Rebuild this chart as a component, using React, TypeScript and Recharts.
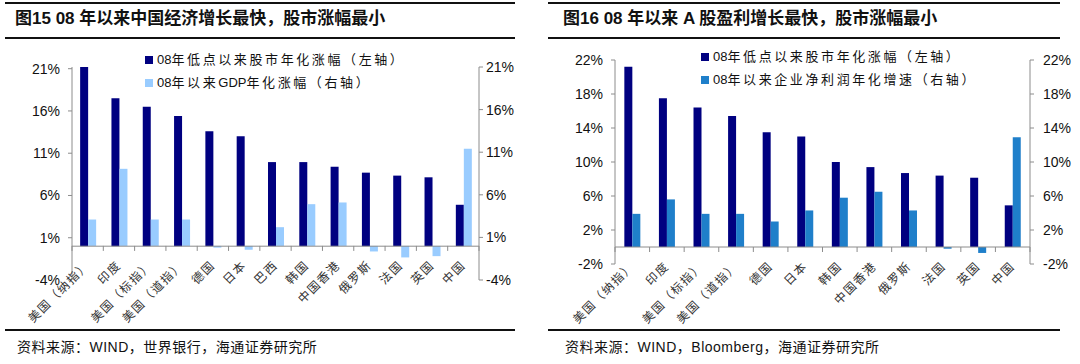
import React from "react";
import { Bar, BarChart, ReferenceLine, XAxis, YAxis } from "recharts";

const leftCategories = [
  "美国（纳指）", "印度", "美国（标指）", "美国（道指）", "德国", "日本", "巴西",
  "韩国", "中国香港", "俄罗斯", "法国", "英国", "中国",
];
const leftStock = [21.2, 17.5, 16.5, 15.4, 13.6, 13.0, 9.95, 9.95, 9.4, 8.7, 8.35, 8.15, 4.9];
const leftGdp = [3.1, 9.05, 3.1, 3.1, -0.2, -0.45, 2.2, 4.9, 5.1, -0.65, -1.35, -1.2, 11.4];
const leftTicks = [-4, 1, 6, 11, 16, 21];

const rightCategories = [
  "美国（纳指）", "印度", "美国（标指）", "美国（道指）", "德国", "日本",
  "韩国", "中国香港", "俄罗斯", "法国", "英国", "中国",
];
const rightStock = [21.2, 17.5, 16.4, 15.4, 13.5, 13.0, 10.0, 9.4, 8.7, 8.4, 8.15, 4.9];
const rightProfit = [3.9, 5.6, 3.9, 3.9, 3.0, 4.3, 5.8, 6.5, 4.3, -0.2, -0.7, 12.9];
const rightTicks = [-2, 2, 6, 10, 14, 18, 22];

const NAVY = "#000080";
const AXIS = "#8c8c8c";
const SANS = "'Liberation Sans', Arial, 'Noto Sans CJK SC', sans-serif";
const CJK = "'Liberation Sans', 'Noto Sans CJK SC', sans-serif";

type Row = { name: string; a: number; b: number };

type PanelProps = {
  offset: number;
  title: string;
  source: string;
  legendA: string;
  legendB: string;
  colorB: string;
  rows: Row[];
  ticks: number[];
  plot: { left: number; right: number; top: number; bottom: number };
  lineFrom: number;
  lineTo: number;
  titleX: number;
  legendX: number;
  legendY: number;
  gap: string;
  rightTickGap: number;
  leftTickGap: number;
};

// keep latin/digit runs tight, spread the CJK characters like the original
function spaced(label: string) {
  return label.split(/([A-Za-z0-9]+)/).map((s, i) =>
    /^[A-Za-z0-9]+$/.test(s) ? (
      <span key={i} style={{ letterSpacing: 0 }}>{s}</span>
    ) : (
      <span key={i}>{s}</span>
    )
  );
}

function Panel(p: PanelProps) {
  const W = 540;
  const H = 364;
  const yw = 50;
  const xh = 30;
  const domain = [p.ticks[0], p.ticks[p.ticks.length - 1]];
  const { left, right, top, bottom } = p.plot;
  const zeroY = top + ((bottom - top) * domain[1]) / (domain[1] - domain[0]);
  const band = (right - left) / p.rows.length;

  const CatTick = (t: any) => {
    const { x, payload, index } = t;
    const last = index === p.rows.length - 1;
    const tx = x;
    const ty = zeroY + 17;
    return (
      <g>
        <line x1={x - band / 2} x2={x - band / 2} y1={zeroY} y2={zeroY + 5} stroke={AXIS} />
        {last && <line x1={x + band / 2} x2={x + band / 2} y1={zeroY} y2={zeroY + 5} stroke={AXIS} />}
        <text
          x={tx}
          y={ty}
          transform={`rotate(-45 ${tx} ${ty})`}
          textAnchor="end"
          dy="0.35em"
          fontSize={12}
          letterSpacing={1.5}
          fill="#333"
          fontFamily={CJK}
        >
          {payload.value}
        </text>
      </g>
    );
  };

  const line = (y: number, h: number) => (
    <div
      style={{
        position: "absolute",
        left: p.lineFrom,
        width: p.lineTo - p.lineFrom,
        top: y,
        height: h,
        background: "#111",
      }}
    />
  );

  const legendItem = (color: string, label: string, y: number) => (
    <div
      style={{
        position: "absolute",
        left: p.legendX,
        top: y,
        display: "flex",
        alignItems: "center",
        fontFamily: CJK,
        fontSize: 13,
        letterSpacing: 2.6,
        color: "#111",
        whiteSpace: "nowrap",
        lineHeight: "16px",
      }}
    >
      <span style={{ display: "inline-block", width: 8, height: 8, background: color, marginRight: 4 }} />
      {spaced(label)}
    </div>
  );

  return (
    <div style={{ position: "absolute", left: p.offset, top: 0, width: W, height: H }}>
      {line(2, 2)}
      <div
        style={{
          position: "absolute",
          left: p.titleX,
          top: 8,
          fontFamily: CJK,
          fontWeight: 700,
          fontSize: 17,
          color: "#111",
          whiteSpace: "nowrap",
          lineHeight: "22px",
        }}
      >
        {p.title}
      </div>
      {line(37, 2)}
      <div style={{ position: "absolute", left: 0, top: 0 }}>
        <BarChart
          width={W}
          height={H}
          data={p.rows}
          margin={{ top, bottom: H - bottom - xh, left: left - yw, right: W - right - yw }}
          barCategoryGap={p.gap}
          barGap={0}
        >
          <XAxis
            dataKey="name"
            height={xh}
            axisLine={false}
            tickLine={false}
            interval={0}
            tick={CatTick}
          />
          <YAxis
            yAxisId="l"
            width={yw}
            domain={domain}
            ticks={p.ticks}
            tickFormatter={(v) => `${v}%`}
            tick={{ fontSize: 14, fill: "#111", fontFamily: SANS }}
            tickSize={4}
            tickMargin={p.leftTickGap}
            stroke={AXIS}
            tickLine={{ stroke: AXIS }}
            axisLine={{ stroke: AXIS }}
          />
          <YAxis
            yAxisId="r"
            orientation="right"
            width={yw}
            domain={domain}
            ticks={p.ticks}
            tickFormatter={(v) => `${v}%`}
            tick={{ fontSize: 14, fill: "#111", fontFamily: SANS }}
            tickSize={4}
            tickMargin={p.rightTickGap}
            stroke={AXIS}
            tickLine={{ stroke: AXIS }}
            axisLine={{ stroke: AXIS }}
          />
          <ReferenceLine yAxisId="l" y={0} stroke={AXIS} />
          <Bar yAxisId="l" dataKey="a" fill={NAVY} isAnimationActive={false} />
          <Bar yAxisId="r" dataKey="b" fill={p.colorB} isAnimationActive={false} />
        </BarChart>
      </div>
      {legendItem(NAVY, p.legendA, p.legendY)}
      {legendItem(p.colorB, p.legendB, p.legendY + 23)}
      {line(329, 2)}
      <div
        style={{
          position: "absolute",
          left: p.titleX + 2,
          top: 337,
          fontFamily: CJK,
          fontSize: 14,
          color: "#111",
          whiteSpace: "nowrap",
          lineHeight: "20px",
          letterSpacing: 0.5,
        }}
      >
        {p.source}
      </div>
    </div>
  );
}

export default function App() {
  const leftRows = leftCategories.map((name, i) => ({ name, a: leftStock[i], b: leftGdp[i] }));
  const rightRows = rightCategories.map((name, i) => ({ name, a: rightStock[i], b: rightProfit[i] }));
  return (
    <div style={{ position: "absolute", left: 0, top: 0, width: 1080, height: 364, background: "#fff" }}>
      <Panel
        offset={0}
        title="图15 08 年以来中国经济增长最快，股市涨幅最小"
        source="资料来源：WIND，世界银行，海通证券研究所"
        legendA="08年低点以来股市年化涨幅（左轴）"
        legendB="08年以来GDP年化涨幅（右轴）"
        colorB="#99ccff"
        rows={leftRows}
        ticks={leftTicks}
        plot={{ left: 72, right: 479, top: 67, bottom: 280 }}
        lineFrom={5}
        lineTo={515}
        titleX={15}
        legendX={145}
        legendY={52}
        gap="26%"
        leftTickGap={8}
        rightTickGap={3}
      />
      <Panel
        offset={540}
        title="图16 08 年以来 A 股盈利增长最快，股市涨幅最小"
        source="资料来源：WIND，Bloomberg，海通证券研究所"
        legendA="08年低点以来股市年化涨幅（左轴）"
        legendB="08年以来企业净利润年化增速（右轴）"
        colorB="#1f7fca"
        rows={rightRows}
        ticks={rightTicks}
        plot={{ left: 75, right: 490, top: 60, bottom: 264 }}
        lineFrom={8}
        lineTo={520}
        titleX={23}
        legendX={161}
        legendY={49}
        gap="27%"
        leftTickGap={8}
        rightTickGap={9}
      />
    </div>
  );
}
